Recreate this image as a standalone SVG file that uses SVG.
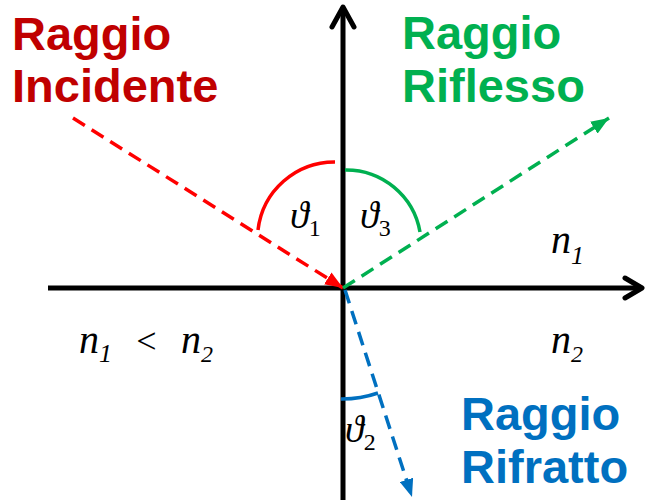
<svg xmlns="http://www.w3.org/2000/svg" width="645" height="500" viewBox="0 0 645 500">
<defs>
<style>
.lbl{font-family:"Liberation Sans",Arial,sans-serif;font-weight:bold;font-size:47px}
.math{font-family:"Liberation Serif","Times New Roman",serif;font-style:italic}
.axis{stroke:#000;stroke-width:5;fill:none}
.head{stroke:#000;stroke-width:5;fill:none;stroke-linecap:round;stroke-linejoin:round}
.ray{stroke-width:3.5;fill:none;stroke-dasharray:14 8}
.arc{stroke-width:3.5;fill:none}
</style>
<marker id="mr" viewBox="0 0 18 14" refX="18" refY="7" markerWidth="18" markerHeight="14" orient="auto" markerUnits="userSpaceOnUse"><path d="M0,0 L18,7 L0,14 z" fill="#FF0000"/></marker>
<marker id="mg" viewBox="0 0 18 14" refX="18" refY="7" markerWidth="18" markerHeight="14" orient="auto" markerUnits="userSpaceOnUse"><path d="M0,0 L18,7 L0,14 z" fill="#00B050"/></marker>
<marker id="mb" viewBox="0 0 18 14" refX="18" refY="7" markerWidth="18" markerHeight="14" orient="auto" markerUnits="userSpaceOnUse"><path d="M0,0 L18,7 L0,14 z" fill="#0070C0"/></marker>
</defs>
<rect width="645" height="500" fill="#fff"/>
<g id="axes">
<line class="axis" x1="343" y1="500" x2="343" y2="8"/>
<path class="head" d="M332,27 L343,7 L354,27"/>
<line class="axis" x1="48" y1="288" x2="640" y2="288"/>
<path class="head" d="M625,278 L642,288 L625,298"/>
</g>
<g id="connectors">
<line class="ray" stroke="#FF0000" x1="73" y1="118" x2="343" y2="288" marker-end="url(#mr)"/>
<line class="ray" stroke="#00B050" x1="343" y1="288" x2="609" y2="118" marker-end="url(#mg)"/>
<line class="ray" stroke="#0070C0" x1="345" y1="290" x2="412" y2="497" marker-end="url(#mb)"/>
</g>
<g id="angles">
<path class="arc" stroke="#FF0000" d="M258,230 A77,77 0 0 1 335,162"/>
<path class="arc" stroke="#00B050" d="M345,170 A75,75 0 0 1 420,232"/>
<path class="arc" stroke="#0070C0" d="M341,399 A110,110 0 0 0 378,393"/>
<text class="math" font-size="38" x="290" y="228">ϑ<tspan font-style="normal" font-size="24" dy="8">1</tspan></text>
<text class="math" font-size="38" x="360" y="228">ϑ<tspan font-style="normal" font-size="24" dy="8">3</tspan></text>
<text class="math" font-size="38" x="345" y="442">ϑ<tspan font-style="normal" font-size="24" dy="8">2</tspan></text>
</g>
<g id="incidente">
<text class="lbl" fill="#C00000" x="12" y="50">Raggio</text>
<text class="lbl" fill="#C00000" x="12" y="102">Incidente</text>
</g>
<g id="riflesso">
<text class="lbl" fill="#00B050" x="402" y="49">Raggio</text>
<text class="lbl" fill="#00B050" x="402" y="102">Riflesso</text>
</g>
<g id="rifratto">
<text class="lbl" fill="#0070C0" x="461" y="430">Raggio</text>
<text class="lbl" fill="#0070C0" x="461" y="483">Rifratto</text>
</g>
<g id="media">
<text class="math" font-size="40" x="551" y="253">n<tspan font-size="26" dy="11">1</tspan></text>
<text class="math" font-size="40" x="551" y="353">n<tspan font-size="24" dy="9">2</tspan></text>
<text class="math" font-size="40" x="79" y="353">n<tspan font-size="26" dy="9">1</tspan></text>
<text class="math" font-size="36" font-style="normal" x="134" y="353">&lt;</text>
<text class="math" font-size="40" x="181" y="353">n<tspan font-size="24" dy="9">2</tspan></text>
</g>
</svg>
